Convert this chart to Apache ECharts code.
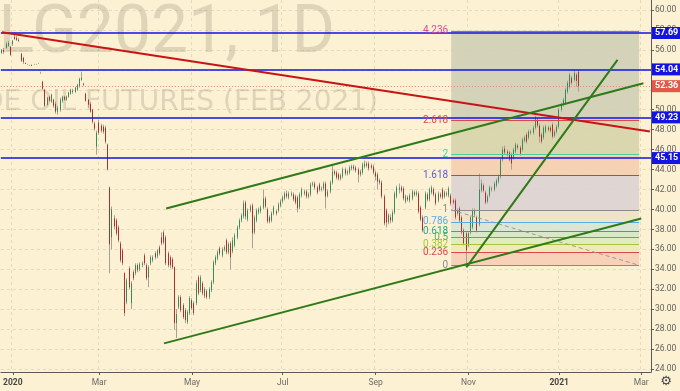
<!DOCTYPE html>
<html><head><meta charset="utf-8">
<script src="https://cdn.jsdelivr.net/npm/echarts@6/dist/echarts.min.js"></script>
<style>html,body{margin:0;padding:0;background:#FDF1D3;}#c{width:680px;height:391px;}</style>
</head><body><div id="c"></div>
<script>
// ---- calendar (category axis) ----
const firstDay = '2019-12-24';
const categoryCount = 301;
const holidays = ['2019-12-25','2020-01-01','2020-01-20','2020-02-17','2020-04-10','2020-05-25','2020-07-03','2020-09-07','2020-11-26','2020-12-25','2021-01-01','2021-01-18','2021-02-15'];
const monthNames = ['Jan','Feb','Mar','Apr','May','Jun','Jul','Aug','Sep','Oct','Nov','Dec'];
const yTicks = [24,26,28,30,32,34,36,38,40,42,44,46,48,50,52,54,56,58,60];

// ---- daily candles: [open, close, low, high] ----
const ohlc = [
[55.7,56.0,55.6,56.1],[56.0,55.8,55.6,56.2],[56.2,56.6,56.1,56.8],[56.4,56.7,56.3,56.9],[56.3,55.5,55.4,56.4],
[56.6,56.9,56.4,57.0],[57.3,57.1,57.0,57.8],[57.2,57.0,56.9,57.4],[57.0,56.9,56.8,57.2],[55.6,54.9,54.8,55.7],
[55.2,54.8,54.6,55.3],[54.7,54.6,54.6,54.7],[54.6,54.6,54.5,54.6],[54.5,54.5,54.4,54.5],[54.5,54.4,54.4,54.5],
[54.5,54.5,54.5,54.6],[54.6,54.6,54.5,54.6],[54.6,54.6,54.6,54.7],[53.7,53.7,53.6,53.8],[52.8,52.1,52.0,52.9],
[52.0,50.4,50.3,52.1],[50.5,51.2,50.4,51.3],[51.3,50.9,50.8,51.4],[50.8,51.5,50.7,51.6],[51.0,50.4,50.2,51.1],
[50.6,49.8,49.6,50.8],[49.8,50.2,49.5,50.4],[50.0,51.0,49.8,51.2],[50.9,51.3,50.7,51.4],[51.3,51.0,50.9,51.4],
[51.0,51.3,50.9,51.4],[51.3,51.7,51.2,51.8],[51.6,52.0,51.5,52.1],[51.9,51.8,51.6,52.1],[51.8,52.2,51.7,52.3],
[52.0,52.5,51.9,52.6],[52.3,53.1,52.2,53.2],[53.0,53.2,52.9,53.8],[52.6,52.5,52.4,52.7],[51.6,50.9,50.8,51.7],
[51.0,50.5,50.2,51.1],[50.6,49.8,49.7,50.8],[50.0,48.8,48.6,50.1],[48.6,48.1,47.9,48.8],[46.3,47.7,45.5,47.9],
[48.7,47.7,47.5,49.0],[48.4,47.9,47.7,48.6],[48.3,47.8,47.6,48.5],[48.2,46.8,46.6,48.4],[46.5,44.0,43.9,46.6],
[42.2,36.5,33.6,42.3],[37.2,40.0,36.0,40.3],[39.1,38.3,38.0,39.4],[38.9,37.6,37.4,39.1],[38.2,36.9,36.7,38.4],
[36.6,34.9,34.7,36.8],[35.9,34.6,34.4,36.1],[33.6,29.6,29.3,33.7],[30.7,32.9,30.5,33.1],[34.1,32.2,32.0,34.3],
[30.6,32.6,30.0,32.8],[33.7,33.1,32.9,33.9],[33.6,34.4,33.4,34.6],[34.4,33.9,33.7,34.6],[34.0,34.5,33.8,34.7],
[34.4,34.6,34.2,34.8],[35.4,34.6,34.4,35.6],[34.4,33.1,32.9,34.6],[33.2,34.2,32.2,34.4],[34.6,35.2,34.4,35.4],
[34.9,35.2,34.7,35.4],[35.6,35.2,35.0,35.8],[35.3,35.9,35.1,36.0],[36.2,35.6,35.4,36.4],[37.2,36.6,36.4,37.7],
[37.7,36.7,36.5,37.9],[37.2,34.6,34.4,37.4],[35.6,34.4,34.2,35.8],[35.2,34.4,34.1,35.4],[35.0,34.2,34.0,35.2],
[34.2,28.6,27.9,34.3],[28.6,29.5,27.1,30.0],[30.2,31.2,30.0,31.4],[31.2,29.9,29.7,31.4],[30.4,29.2,29.0,30.6],
[29.9,28.9,28.6,30.1],[28.7,29.7,28.5,29.9],[29.6,31.1,29.4,31.3],[30.9,30.1,29.9,31.1],[30.6,29.6,29.4,30.8],
[30.6,32.6,30.4,32.9],[33.2,31.6,31.4,33.4],[31.9,33.2,31.7,33.4],[32.6,31.6,31.4,32.8],[31.3,32.0,31.1,32.2],
[31.8,31.2,31.0,32.0],[31.2,32.0,31.0,32.2],[31.9,32.7,31.7,32.9],[32.7,34.7,32.5,34.9],[34.6,35.2,34.4,35.4],
[35.1,35.7,34.9,35.9],[36.1,35.6,35.4,36.3],[35.4,36.0,35.2,36.2],[36.0,36.2,35.8,36.4],[36.9,35.7,35.5,37.1],
[35.7,36.5,35.5,36.7],[36.6,35.2,34.0,36.8],[35.8,36.9,35.6,37.2],[36.4,37.4,36.2,37.6],[37.2,38.2,37.0,38.4],
[38.2,38.9,38.0,39.1],[38.9,39.4,38.7,39.6],[39.3,40.6,39.1,40.9],[40.7,39.3,39.0,40.9],[39.0,39.9,38.8,40.1],
[39.9,40.3,39.7,40.5],[40.4,37.6,36.1,40.6],[37.7,39.2,37.5,39.4],[38.9,39.9,38.7,40.1],[39.7,40.0,39.5,40.2],
[39.8,40.2,39.6,40.4],[40.2,41.1,40.0,42.0],[41.1,40.3,40.1,41.3],[40.0,38.8,38.6,40.2],[39.2,38.8,38.6,39.4],
[38.9,39.6,38.7,39.8],[39.6,40.2,39.4,40.4],[39.8,39.6,39.4,40.0],[39.9,40.5,39.7,40.7],[40.4,40.8,40.2,41.0],
[40.8,41.2,40.6,41.4],[41.1,41.6,40.9,41.8],[41.6,41.3,41.1,41.9],[41.2,41.6,41.0,41.8],[41.6,41.5,41.3,41.8],
[41.5,41.0,40.8,41.7],[41.3,40.7,40.5,41.5],[41.2,40.1,39.7,41.4],[40.2,41.5,40.0,41.7],[41.4,42.0,41.2,42.2],
[41.6,41.8,41.4,42.0],[41.8,41.3,41.1,42.0],[41.3,41.5,41.1,41.7],[41.5,42.5,41.3,42.7],[42.5,42.6,42.3,42.8],
[42.6,42.2,42.0,42.8],[42.2,41.7,41.5,42.4],[42.5,42.0,41.8,42.7],[42.0,42.1,41.8,42.3],[42.1,42.6,41.9,42.8],
[42.6,41.3,40.1,42.8],[41.4,41.8,41.2,42.0],[41.8,42.7,41.6,42.9],[42.7,43.8,42.5,44.5],[43.8,43.6,43.4,44.0],
[43.7,43.2,43.0,43.9],[43.5,43.1,42.9,43.7],[43.1,43.4,42.9,43.6],[43.3,44.0,43.1,44.2],[44.0,43.6,43.4,44.2],
[43.6,43.8,43.4,44.0],[43.7,44.2,43.5,44.4],[44.1,44.3,43.9,44.5],[44.3,44.1,43.9,44.5],[44.2,43.9,43.7,44.4],
[44.0,43.5,42.7,44.2],[43.5,43.8,43.3,44.0],[43.7,44.5,43.5,44.7],[44.3,44.6,44.1,44.9],[44.6,44.4,44.2,44.8],
[44.6,44.1,43.9,44.8],[44.4,44.2,44.0,44.6],[44.3,43.7,43.5,44.5],[43.7,43.3,42.9,43.9],[43.5,42.8,42.0,43.7],
[42.9,42.7,42.5,43.1],[42.7,41.3,41.1,42.9],[41.3,38.6,38.4,41.5],[39.9,38.7,38.2,40.1],[38.7,39.4,38.5,39.6],
[39.2,38.9,38.6,39.5],[38.9,39.7,38.7,39.9],[39.7,41.6,39.5,41.8],[41.3,42.2,41.1,42.4],[42.0,42.2,41.6,42.6],
[42.2,41.9,41.7,42.4],[42.1,41.1,40.9,42.3],[40.8,41.3,40.6,41.5],[41.2,41.0,40.8,41.4],[40.9,41.4,40.7,41.6],
[41.1,41.8,40.9,42.0],[41.7,41.5,41.3,41.9],[41.5,41.7,41.3,41.9],[41.6,39.8,39.6,41.8],[40.2,39.0,38.8,40.4],
[39.2,37.9,37.7,39.4],[40.2,41.6,40.0,41.8],[41.5,41.0,40.8,41.7],[41.0,42.0,40.8,42.2],[41.7,42.2,41.5,42.4],
[42.0,41.5,41.3,42.2],[41.5,40.6,40.4,41.7],[40.9,41.6,40.7,41.8],[41.5,41.3,41.1,41.7],[42.0,41.2,41.0,42.2],
[41.3,41.7,41.1,41.9],[41.6,41.5,41.3,41.8],[41.4,42.1,41.2,42.3],[41.4,40.6,40.4,41.6],[40.9,40.7,40.5,41.1],
[40.9,39.2,39.0,41.1],[39.6,39.9,39.4,40.1],[40.1,38.9,38.7,40.3],[39.2,37.7,37.5,39.4],[37.9,36.6,36.4,38.1],
[37.6,35.9,34.4,37.8],[36.4,37.6,36.2,37.8],[37.7,39.2,37.5,39.4],[38.2,39.9,38.0,40.1],[39.5,39.9,39.3,40.1],
[39.2,37.9,37.7,39.4],[38.5,42.0,38.3,43.6],[41.9,42.6,41.7,43.0],[42.4,41.9,41.7,42.6],[41.7,40.7,40.5,41.9],
[40.8,41.3,40.6,41.5],[41.4,42.2,41.2,42.4],[42.0,42.1,41.8,42.3],[42.0,42.6,41.8,42.8],[42.4,42.9,42.2,43.1],
[42.8,43.3,42.6,43.5],[43.3,45.0,43.1,45.2],[45.0,46.0,44.8,46.3],[46.1,45.7,45.5,46.4],[45.8,45.6,45.3,46.0],
[45.7,45.0,44.8,45.9],[45.5,44.6,44.0,45.7],[45.2,46.0,45.0,46.2],[45.8,46.5,45.6,46.7],[46.4,46.2,46.0,46.6],
[46.2,45.6,45.4,46.4],[46.0,47.0,45.8,47.2],[46.9,47.2,46.7,47.4],[47.5,46.8,46.6,47.7],[47.2,47.8,47.0,48.0],
[47.8,47.7,47.5,48.0],[47.7,48.2,47.5,48.4],[48.2,49.2,48.0,49.4],[49.0,48.4,48.2,49.2],[48.4,47.3,46.7,48.6],
[47.5,46.8,46.6,47.7],[47.2,48.2,47.0,48.4],[47.8,48.3,47.6,48.5],[48.2,48.0,47.8,48.4],[48.2,47.9,47.7,48.4],
[48.5,47.3,47.1,48.7],[47.4,47.8,47.2,48.0],[47.8,48.3,47.6,48.5],[48.3,50.0,48.1,50.2],[50.0,50.5,49.8,50.7],
[50.5,51.0,50.3,51.2],[50.7,52.0,50.5,52.2],[51.8,52.7,51.6,52.9],[52.3,53.5,52.1,53.7],[53.2,52.7,52.5,53.4],
[53.0,53.7,52.8,54.0],[53.5,52.9,52.3,53.7],[53.8,52.36,51.8,54.0]
];

const lastPrice = 52.36;
const hLevels = [57.69, 54.04, 49.23, 45.15];

// ---- Fibonacci retracement ----
const fibStartIdx = 208, fibEndIdx = 295;
const fibOne = 39.95, fibZero = 34.40;
const fibRatios = [0, 0.236, 0.382, 0.5, 0.618, 0.786, 1, 1.618, 2, 2.618, 4.236];
const fibLineColors = ['#8a8a8a','#e04848','#a5c63b','#4cb84f','#26ad94','#5aaae6','#8a8a8a','#5c5cd6','#4ccfa0','#e04848','#e0489a'];
const fibFillColors = [null,'#F7CEB5','#EDE9B6','#DDEBB8','#D3E8C4','#D5E6D4','#ECE2C6','#DCD3D3','#F5CDB0','#D6D4AB','#CFCEB6'];

// ---- trend lines: [categoryIndex, price] ----
const redTrend = [[0, 57.77], [300, 47.81]];
const greenTrends = [
  [[76, 40.10], [297, 52.66]],
  [[75, 26.57], [296, 39.10]],
  [[215, 34.19], [285, 55.0]]
];

// build categories
function tradingDays() {
  const out = []; const d = new Date(firstDay + 'T00:00:00Z');
  while (out.length < categoryCount) {
    const dow = d.getUTCDay(); const s = d.toISOString().slice(0, 10);
    if (dow !== 0 && dow !== 6 && holidays.indexOf(s) < 0) out.push(s);
    d.setUTCDate(d.getUTCDate() + 1);
  }
  return out;
}
const dates = tradingDays();
const labelIdx = {};
dates.forEach((s, i) => {
  const m = +s.slice(5, 7);
  if (i > 0 && s.slice(5, 7) !== dates[i - 1].slice(5, 7) && m % 2 === 1) labelIdx[i] = true;
});
const isTick = (i) => !!labelIdx[i];
const fmtDate = (v) => { const m = +v.slice(5, 7); return m === 1 ? '{y|' + v.slice(0, 4) + '}' : monthNames[m - 1]; };

const fibPrice = r => fibZero + (fibOne - fibZero) * r;
const gridLine = { type: [3, 3], color: 'rgba(150,135,100,0.22)', width: 1 };

const fibAreas = [];
const fibLines = [];
fibRatios.forEach((r, k) => {
  if (k > 0) fibAreas.push([{ coord: [fibStartIdx, fibPrice(fibRatios[k - 1])], itemStyle: { color: fibFillColors[k] } }, { coord: [fibEndIdx, fibPrice(r)] }]);
  fibLines.push([
    { coord: [fibStartIdx, fibPrice(r)], lineStyle: { color: fibLineColors[k], width: 1, type: 'solid' },
      label: { show: true, position: 'start', distance: 3, formatter: String(r), color: fibLineColors[k], fontSize: 10 } },
    { coord: [fibEndIdx, fibPrice(r)] }
  ]);
});
fibLines.push([
  { coord: [fibStartIdx, fibOne], lineStyle: { color: '#9a9a9a', width: 1, type: [4, 3] } },
  { coord: [fibEndIdx, fibZero] }
]);

const tag = (bg) => ({ show: true, position: 'end', distance: 1, color: '#fff', backgroundColor: bg,
  padding: [2, 3, 1, 3], fontSize: 9, fontWeight: 'bold', formatter: p => p.value.toFixed(2) });

const overlayLines = [];
hLevels.forEach(v => overlayLines.push({ yAxis: v, lineStyle: { color: '#1212e8', width: 1.6, type: 'solid' }, label: tag('#1414e0') }));
overlayLines.push({ yAxis: lastPrice, lineStyle: { color: '#e8857a', width: 1, type: [1, 2] }, label: tag('#e0594b') });
overlayLines.push([{ coord: redTrend[0], lineStyle: { color: '#c81414', width: 2, type: 'solid' } }, { coord: redTrend[1] }]);
greenTrends.forEach(t => overlayLines.push([{ coord: t[0], lineStyle: { color: '#2f7a18', width: 2, type: 'solid' } }, { coord: t[1] }]));

const bodies = ohlc.map(r => [r[0], r[1], Math.min(r[0], r[1]), Math.max(r[0], r[1])]);

const chart = echarts.init(document.getElementById('c'), null, { renderer: 'canvas' });
chart.setOption({
  animation: false,
  backgroundColor: '#FDF1D3',
  textStyle: { fontFamily: 'Roboto, sans-serif' },
  grid: { left: 0, right: 29, top: 0, bottom: 19, containLabel: false },
  graphic: [
    { type: 'text', x: 335, y: 35, z: 0, silent: true,
      style: { text: 'CLG2021, 1D', font: '66px Roboto, sans-serif', fill: 'rgba(130,122,100,0.24)', textAlign: 'right', textVerticalAlign: 'middle' } },
    { type: 'text', x: 378, y: 103, z: 0, silent: true,
      style: { text: 'CRUDE OIL FUTURES (FEB 2021)', font: '28px "DejaVu Sans", sans-serif', fill: 'rgba(130,122,100,0.24)', textAlign: 'right', textVerticalAlign: 'middle' } },
    { type: 'text', x: 666, y: 382, z: 10, silent: true,
      style: { text: '\u2699', font: '13px "DejaVu Sans"', fill: '#444', textAlign: 'center', textVerticalAlign: 'middle' } }
  ],
  xAxis: {
    type: 'category', data: dates, boundaryGap: true,
    axisLine: { lineStyle: { color: '#5b5a55' } },
    axisTick: { show: true, alignWithLabel: true, interval: isTick, length: 3, lineStyle: { color: '#5b5a55' } },
    axisLabel: { interval: isTick, formatter: fmtDate, fontSize: 8.5, color: '#6a6a6a', margin: 6,
      rich: { y: { fontSize: 8.5, fontWeight: 'bold', color: '#444' } } },
    splitLine: { show: true, interval: isTick, lineStyle: gridLine }
  },
  yAxis: {
    type: 'value', position: 'right', min: 23.7, max: 61.0,
    axisLine: { show: true, lineStyle: { color: '#5b5a55' } },
    axisTick: { show: true, length: 3, customValues: yTicks, lineStyle: { color: '#5b5a55' } },
    axisLabel: { customValues: yTicks, formatter: v => v.toFixed(2), fontSize: 8.5, color: '#5f5f5f', margin: 4 },
    splitLine: { show: true, lineStyle: gridLine }
  },
  series: [
    { type: 'line', name: 'fib', data: [], z: 1, clip: false, silent: true,
      markArea: { silent: true, itemStyle: { opacity: 0.9 }, data: fibAreas },
      markLine: { silent: true, symbol: ['none', 'none'], label: { show: false }, data: fibLines } },
    { type: 'candlestick', name: 'wick', data: ohlc, z: 3, barWidth: 0.3, silent: true,
      itemStyle: { color: '#a8a296', color0: '#a8a296', borderColor: '#a8a296', borderColor0: '#a8a296', borderColorDoji: '#a8a296', borderWidth: 1 } },
    { type: 'candlestick', name: 'body', data: bodies, z: 4, barWidth: 0.8, silent: true,
      itemStyle: { color: '#338a5a', color0: '#ab2f2f', borderColor: '#338a5a', borderColor0: '#ab2f2f', borderColorDoji: '#ab2f2f', borderWidth: 1 } },
    { type: 'line', name: 'overlay', data: [], z: 6, clip: false, silent: true,
      markLine: { silent: true, symbol: ['none', 'none'], label: { show: false }, data: overlayLines } }
  ]
});
</script></body></html>
